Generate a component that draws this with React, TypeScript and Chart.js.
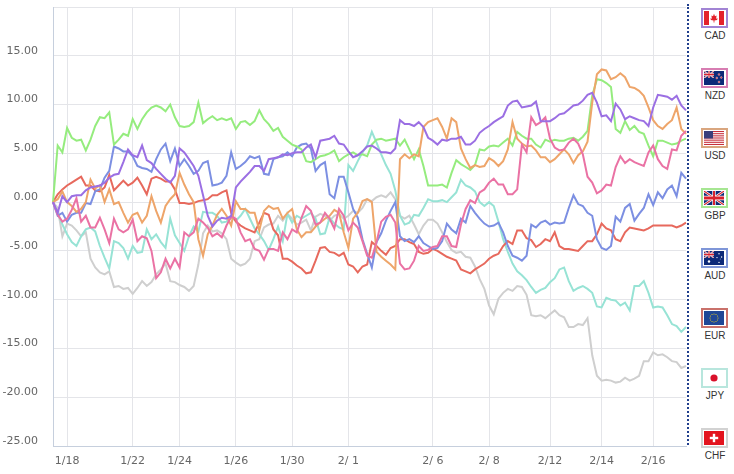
import React, { useEffect, useRef } from 'react';
import Chart from 'chart.js/auto';

// Trading days on the x axis and how many 4h points each one holds
const DAYS = ['1/17', '1/18', '1/19', '1/22', '1/23', '1/24', '1/25', '1/26', '1/29', '1/30', '1/31',
  '2/ 1', '2/ 2', '2/ 5', '2/ 6', '2/ 7', '2/ 8', '2/ 9', '2/12', '2/13', '2/14', '2/15', '2/16'];
const POINTS_PER_DAY = [3, 7, 7, 5, 5, 6, 6, 6, 6, 6, 6, 6, 6, 6, 6, 6, 7, 6, 5, 6, 5, 6, 8];
const TICK_DATES = ['1/18', '1/22', '1/24', '1/26', '1/30', '2/ 1', '2/ 6', '2/ 8', '2/12', '2/14', '2/16'];

const CURRENCIES = ['CAD', 'NZD', 'USD', 'GBP', 'AUD', 'EUR', 'JPY', 'CHF'];

// Cumulative change (%) per currency
const CAD = [0, -1.1, 0.6, 0.0, 0.6, 0.7, 0.7, 1.2, 1.5, 1.6,
  1.7, 2.0, 2.5, 2.8, 2.9, 4.1, 5.4, 4.8, 4.6, 5.8,
  4.3, 4.0, 3.4, 2.9, 2.4, 2.0, 2.7, 5.5, 5.1, 4.4,
  3.7, 2.7, 0.7, -1.4, -2.5, -1.9, -1.6, -1.7, -1.4, 1.5,
  2.1, 2.6, 3.1, 3.7, 3.7, 3.2, 4.4, 4.5, 4.6, 4.9,
  4.8, 5.0, 5.1, 5.1, 5.6, 5.9, 4.6, 6.3, 6.4, 6.5,
  6.8, 6.0, 5.9, 5.2, 4.6, 4.8, 5.2, 5.7, 5.8, 5.5,
  5.1, 5.1, 5.0, 5.5, 8.4, 8.0, 8.0, 7.8, 8.2, 7.7,
  6.6, 6.3, 5.9, 6.4, 6.3, 6.5, 6.5, 6.7, 5.9, 5.9,
  6.3, 7.1, 7.5, 7.8, 8.2, 8.5, 8.8, 9.9, 10.3, 10.4,
  9.7, 9.8, 9.9, 10.3, 8.3, 8.3, 8.3, 8.6, 9.0, 9.1,
  9.5, 9.9, 10.0, 10.4, 11.0, 11.2, 10.2, 8.8, 8.9, 8.3,
  10.1, 9.5, 8.5, 8.8, 8.6, 8.4, 8.3, 7.8, 9.7, 11.0,
  10.9, 10.8, 10.5, 10.9, 9.9, 9.4];

const NZD = [0, -1.3, -2.0, -1.7, -0.8, 0.4, -2.0, -1.4, -2.6, -2.6,
  -1.6, -2.8, -4.2, -1.7, -2.8, -3.1, -2.8, -1.8, -4.0, -3.5,
  -3.7, -5.0, -7.8, -7.2, -5.8, -6.8, -5.8, -6.7, -3.1, -3.5,
  -3.1, -1.7, -2.1, -2.6, -3.5, -3.2, -3.6, -2.4, -1.5, -1.7,
  -3.1, -4.0, -3.8, -4.8, -5.0, -5.9, -4.8, -4.8, -5.0, -3.1,
  -3.8, -2.8, -3.1, -1.6, -0.4, -0.9, -2.3, -2.1, -1.1, -1.7,
  -2.7, -0.7, -1.4, -2.9, -2.1, -2.6, -4.0, -5.5, -5.7, -4.1,
  -2.0, -1.5, -1.3, -2.1, -6.3, -6.9, -6.8, -6.0, -4.5, -5.0,
  -4.9, -4.6, -4.5, -3.5, -3.5, -4.5, -4.6, -2.3, -0.7, 0.2,
  -0.1, 1.0, 1.3, 2.0, 2.4, 1.8, 1.8, 0.8, 0.8, 1.3,
  5.9, 5.1, 8.7, 7.9, 8.2, 8.7, 6.5, 5.6, 5.3, 5.4,
  6.1, 6.5, 6.0, 4.9, 2.6, 2.0, 0.9, 1.2, 1.8, 1.7,
  3.6, 4.7, 4.0, 4.4, 4.1, 3.9, 3.7, 5.1, 5.8, 4.4,
  3.7, 3.4, 5.4, 5.3, 6.8, 7.3];

const USD = [0, 0.3, 1.1, 0.0, -0.4, -1.0, -0.7, 0.0, 2.3, 1.4,
  1.7, 0.0, 1.3, -0.2, 0.0, -1.1, -2.1, -1.3, -1.1, -2.1,
  -1.4, 0.6, -0.9, -2.1, -0.4, 0.3, 0.8, 3.0, 1.8, 0.8,
  0.0, -3.8, -5.5, -3.3, -2.4, -1.3, -0.7, -1.4, -2.4, 0.1,
  -0.7, -0.7, -1.1, -1.1, -2.9, -0.9, -0.4, -0.7, -0.6, -1.7,
  -1.1, -0.7, -2.8, -3.6, -3.1, -3.1, -2.5, -2.1, -1.7, -1.4,
  -0.8, -1.1, -3.1, -4.7, -1.7, -1.1, 0.1, 0.3, 0.0, -5.1,
  -5.6, -6.0, -6.4, -6.9, 4.4, 4.9, 4.5, 4.9, 4.7, 7.7,
  8.2, 8.4, 8.6, 7.7, 6.5, 8.6, 8.2, 5.5, 4.4, 3.5,
  3.8, 3.6, 3.7, 4.5, 4.2, 3.7, 4.2, 5.4, 8.2, 6.5,
  6.0, 5.7, 5.8, 5.3, 4.6, 4.6, 4.1, 4.4, 4.9, 5.4,
  4.9, 4.0, 4.8, 5.2, 6.2, 10.2, 13.1, 13.6, 13.5, 12.6,
  12.8, 13.2, 12.8, 11.8, 11.7, 11.4, 10.9, 9.7, 8.4, 7.8,
  7.5, 8.0, 8.4, 9.7, 7.5, 7.0];

const GBP = [0, 5.8, 5.1, 7.6, 6.6, 6.3, 6.4, 5.3, 6.4, 7.8,
  8.7, 8.6, 9.2, 5.9, 6.4, 7.0, 6.8, 8.5, 7.5, 8.5,
  9.2, 9.7, 9.9, 9.7, 9.3, 10.0, 8.7, 7.8, 7.7, 7.8,
  8.2, 10.2, 8.1, 8.5, 8.8, 8.4, 8.6, 8.4, 8.6, 7.5,
  8.2, 8.3, 7.9, 8.3, 9.4, 8.5, 8.0, 7.3, 7.6, 6.7,
  6.3, 5.9, 5.7, 5.4, 4.2, 4.1, 4.4, 4.7, 4.8, 5.0,
  5.3, 4.2, 4.6, 4.9, 5.1, 4.8, 4.9, 4.7, 5.9, 6.4,
  6.5, 6.3, 6.4, 6.5, 5.8, 6.4, 5.4, 4.4, 5.4, 3.7,
  1.7, 1.7, 1.7, 1.8, 1.5, 3.0, 4.3, 3.9, 3.6, 3.3,
  3.8, 5.4, 5.3, 5.7, 5.8, 5.7, 6.1, 6.5, 5.8, 7.2,
  6.8, 6.5, 6.5, 5.9, 5.6, 6.4, 6.2, 6.4, 6.3, 6.3,
  6.5, 6.6, 6.3, 6.7, 7.3, 10.9, 12.6, 12.5, 12.2, 11.8,
  7.5, 7.1, 8.3, 7.4, 7.8, 7.2, 7.0, 5.8, 4.7, 6.3,
  6.3, 6.1, 5.9, 6.0, 6.3, 6.5];

const AUD = [0, -1.4, -1.1, -2.0, -1.3, -1.1, -1.1, -0.1, -0.2, 1.1,
  1.3, 2.5, 3.2, 5.7, 5.5, 5.2, 5.2, 4.7, 3.7, 3.5,
  3.4, 3.1, 4.4, 5.4, 6.0, 4.2, 5.5, 3.7, 4.4, 3.7,
  2.9, 3.2, 4.0, 4.2, 1.7, 1.8, 2.0, 2.7, 5.1, 3.4,
  3.7, 4.1, 4.7, 4.5, 4.7, 2.9, 2.8, 4.4, 4.6, 4.7,
  5.1, 4.7, 5.6, 5.9, 6.0, 5.5, 3.2, 3.8, 4.1, 0.8,
  0.4, 2.6, 2.6, 1.0, -0.7, -1.6, -3.8, -5.3, -6.7, -4.1,
  -3.2, -1.9, -0.9, 0.0, -3.5, -4.0, -3.8, -4.1, -3.5, -4.2,
  -4.5, -4.8, -4.7, -4.0, -2.2, -2.8, -3.2, -1.7, -2.1, -0.4,
  -1.1, -1.7, -2.2, -2.5, -2.4, -2.1, -3.1, -4.5, -5.5, -5.7,
  -6.0, -5.5, -2.3, -2.6, -2.1, -1.9, -2.3, -2.1, -2.2, -2.1,
  -0.6, 0.7, -0.2, -0.4, -1.1, -1.4, -3.8, -4.7, -4.9, -4.5,
  -1.5, -2.0, -0.6, -0.2, -1.9, -1.2, -0.6, 0.8, -0.3, 1.0,
  0.4, 1.3, 1.7, 0.6, 3.0, 2.4];

const EUR = [0, 0.8, 1.3, 1.7, 2.0, 2.3, 2.6, 1.7, 1.7, 1.2,
  1.1, 1.5, 2.8, 1.2, 1.7, 2.2, 1.7, 2.0, 2.5, 1.7,
  0.8, 2.4, 2.6, 2.4, 2.1, 2.1, 1.3, -0.1, -0.1, -0.2,
  -0.1, 0.1, 0.2, 0.3, 0.7, 0.7, 1.0, 1.2, -1.1, -2.0,
  -2.4, -2.7, -2.9, -3.1, -2.1, -1.1, -1.3, -2.8, -3.4, -5.8,
  -5.8, -6.1, -6.5, -6.8, -7.3, -7.2, -6.0, -4.7, -4.6, -5.1,
  -5.2, -5.5, -5.2, -6.4, -6.6, -7.2, -6.6, -6.4, -4.1, -4.5,
  -5.0, -5.4, -4.7, -4.5, -3.8, -3.8, -4.1, -4.3, -5.1, -5.3,
  -5.2, -4.8, -5.0, -5.3, -5.6, -5.8, -6.0, -6.9, -7.1, -7.3,
  -6.9, -6.6, -6.3, -5.8, -5.5, -5.3, -4.5, -4.0, -4.3, -2.9,
  -2.9, -3.7, -3.9, -4.6, -4.3, -3.8, -4.0, -3.1, -4.5, -4.8,
  -4.8, -4.9, -5.0, -4.5, -4.0, -4.0, -3.3, -2.2, -2.7, -2.9,
  -3.8, -4.0, -3.1, -2.6, -2.7, -2.8, -2.9, -2.7, -2.4, -2.4,
  -2.4, -2.4, -2.4, -2.6, -2.4, -2.1];

const JPY = [0, -1.1, -2.3, -3.3, -4.1, -4.5, -3.5, -2.8, -2.6, -3.0,
  -4.5, -5.7, -6.8, -4.0, -4.2, -4.7, -5.8, -4.5, -5.2, -5.1,
  -2.8, -3.8, -3.3, -4.1, -4.7, -1.7, -3.4, -4.2, -5.0, -3.5,
  -2.5, -3.0, -1.0, -1.1, -1.1, -1.4, -2.1, -2.0, -1.6, -1.9,
  -1.4, -0.7, -1.7, -2.7, -3.3, -4.0, -4.9, -3.8, -2.5, -4.0,
  -1.2, -2.1, -1.4, -1.7, -1.4, -1.1, -1.7, -3.3, -3.2, -1.6,
  -2.2, -2.6, -2.8, 3.8, 3.2, 4.2, 5.1, 5.8, 7.2, 6.1,
  4.9, 3.8, 2.9, 1.2, -1.4, -2.3, -2.1, -1.3, -1.4, -0.6,
  0.3, 0.1, 0.1, 0.2, 0.0, 0.5, 1.0, 2.3, 1.7, 1.5,
  1.1, 0.0, -0.4, 0.0, -0.4, -2.0, -3.8, -5.1, -6.3, -7.1,
  -7.5, -8.0, -8.7, -9.3, -9.0, -8.8, -8.2, -7.8, -6.9, -6.7,
  -8.1, -9.1, -8.8, -8.6, -8.9, -9.3, -10.7, -10.8, -9.8, -10.0,
  -10.1, -10.6, -10.3, -11.1, -8.6, -8.6, -8.1, -9.3, -10.8, -10.7,
  -10.8, -11.6, -12.5, -12.7, -13.3, -12.8];

const CHF = [0, -0.6, -3.5, -2.2, -2.4, -2.9, -3.5, -3.1, -5.8, -6.7,
  -7.2, -7.4, -7.1, -8.7, -8.6, -8.9, -8.8, -9.4, -8.8, -8.1,
  -8.6, -8.2, -7.4, -6.9, -6.3, -8.1, -8.2, -8.5, -8.7, -9.1,
  -8.6, -6.4, -3.2, -2.4, -3.0, -2.9, -3.2, -3.8, -5.8, -6.2,
  -6.5, -6.3, -5.8, -4.0, -3.8, -2.6, -2.3, -2.2, -1.4, -1.9,
  -1.2, -1.7, -2.3, -2.1, -1.8, -2.9, -1.5, -1.2, -1.4, -1.9,
  -1.4, -1.2, -1.7, -1.4, -0.9, -1.1, -0.6, 0.3, 0.1, 0.5,
  0.7, 0.5, 1.0, 0.3, -1.4, -1.7, -1.4, -2.3, -3.3, -2.4,
  -1.8, -1.8, -2.2, -3.1, -4.1, -4.9, -5.2, -5.1, -5.6, -5.7,
  -6.6, -7.9, -8.9, -10.6, -11.5, -9.9, -9.3, -8.9, -9.1, -8.6,
  -8.7, -9.5, -11.6, -11.7, -11.6, -11.9, -11.5, -11.1, -11.6, -11.8,
  -12.8, -12.8, -12.5, -12.6, -11.9, -15.7, -17.8, -18.3, -18.2, -18.3,
  -18.5, -18.4, -18.0, -18.3, -18.1, -17.8, -16.3, -16.3, -15.4, -15.7,
  -15.6, -15.9, -16.3, -16.4, -17.0, -16.8];

const SERIES = [CAD, NZD, USD, GBP, AUD, EUR, JPY, CHF];
const LINE_COLORS = ['#9b6fe3', '#ea72a4', '#eea56a', '#95ec7e', '#7c8fe2', '#e7695d', '#97e3d5', '#cfcfcf'];
const BOX_COLORS = ['#a184d4', '#d77db2', '#d9a67f', '#a6e692', '#7f96d8', '#c9716b', '#b8e6dd', '#d2d2d2'];

// one label per point, ticks only on the first point of the listed days
const LABELS = DAYS.flatMap((d, i) => Array(POINTS_PER_DAY[i]).fill(d));
const TICK_INDEX = TICK_DATES.map((d) => LABELS.indexOf(d));

const tickFont = { family: '"DejaVu Sans", Verdana, sans-serif', size: 11 };

// Small flags for the legend column
const UnionJack = ({ width = 20, height = 14 }: { width?: number; height?: number }) => (
  <svg x={0} y={0} width={width} height={height} viewBox="0 0 60 30" preserveAspectRatio="none">
    <rect width="60" height="30" fill="#0d2a78" />
    <path d="M0,0 L60,30 M60,0 L0,30" stroke="#fff" strokeWidth="6" />
    <path d="M0,0 L60,30 M60,0 L0,30" stroke="#d8222e" strokeWidth="2.5" />
    <path d="M30,0 V30 M0,15 H60" stroke="#fff" strokeWidth="10" />
    <path d="M30,0 V30 M0,15 H60" stroke="#d8222e" strokeWidth="6" />
  </svg>
);

const EU_STARS = [0, 1, 2, 3, 4, 5, 6, 7, 8, 9, 10, 11];

const Flag = ({ code }: { code: string }) => {
  let body: React.ReactNode = null;
  if (code === 'CAD') {
    body = (
      <>
        <rect width="20" height="14" fill="#fff" />
        <rect width="5" height="14" fill="#e3222b" />
        <rect x="15" width="5" height="14" fill="#e3222b" />
        <polygon points="10,2.8 11,5.2 12.6,4.5 12.1,7.8 13.6,7.2 13.1,9 10.4,9.6 10.4,11.4 9.6,11.4 9.6,9.6 6.9,9 6.4,7.2 7.9,7.8 7.4,4.5 9,5.2" fill="#e3222b" />
      </>
    );
  } else if (code === 'NZD') {
    body = (
      <>
        <rect width="20" height="14" fill="#0d2a78" />
        <UnionJack width={10} height={7} />
        {[[15, 3.5], [12.8, 7], [17.3, 6.5], [15, 11]].map(([cx, cy], i) => (
          <circle key={i} cx={cx} cy={cy} r="0.9" fill="#d8222e" stroke="#fff" strokeWidth="0.4" />
        ))}
      </>
    );
  } else if (code === 'USD') {
    body = (
      <>
        <rect width="20" height="14" fill="#fff" />
        {[0, 2, 4, 6, 8, 10, 12].map((s) => (
          <rect key={s} y={(s * 14) / 13} width="20" height={14 / 13} fill="#c7303d" />
        ))}
        <rect width="9" height="7.5" fill="#3a3f7a" />
      </>
    );
  } else if (code === 'GBP') {
    body = <UnionJack />;
  } else if (code === 'AUD') {
    body = (
      <>
        <rect width="20" height="14" fill="#0d2a78" />
        <UnionJack width={10} height={7} />
        {[[5, 10.5, 1.2], [15, 2.8, 0.7], [17.6, 6, 0.7], [13, 6.6, 0.7], [15, 11.4, 0.7], [16.2, 8, 0.4]].map(([cx, cy, r], i) => (
          <circle key={i} cx={cx} cy={cy} r={r} fill="#fff" />
        ))}
      </>
    );
  } else if (code === 'EUR') {
    body = (
      <>
        <rect width="20" height="14" fill="#1f4796" />
        {EU_STARS.map((k) => (
          <circle key={k} cx={10 + 4 * Math.cos((k * Math.PI) / 6)} cy={7 + 4 * Math.sin((k * Math.PI) / 6)} r="0.55" fill="#f2d21a" />
        ))}
      </>
    );
  } else if (code === 'JPY') {
    body = (
      <>
        <rect width="20" height="14" fill="#fff" />
        <circle cx="10" cy="7" r="3.6" fill="#d9102a" />
      </>
    );
  } else if (code === 'CHF') {
    body = (
      <>
        <rect width="20" height="14" fill="#e3141e" />
        <rect x="8.8" y="2.8" width="2.4" height="8.4" fill="#fff" />
        <rect x="5.8" y="5.8" width="8.4" height="2.4" fill="#fff" />
      </>
    );
  }
  return (
    <svg width="20" height="14" viewBox="0 0 20 14" style={{ display: 'block' }}>
      {body}
    </svg>
  );
};

const App: React.FC = () => {
  const canvasRef = useRef<HTMLCanvasElement | null>(null);

  useEffect(() => {
    if (!canvasRef.current) return;

    const chart = new Chart(canvasRef.current, {
      type: 'line',
      data: {
        labels: LABELS,
        datasets: CURRENCIES.map((c, i) => ({
          label: c,
          data: SERIES[i],
          borderColor: LINE_COLORS[i],
          backgroundColor: LINE_COLORS[i],
          borderWidth: 2,
          pointRadius: 0,
          tension: 0,
          fill: false,
        })),
      },
      options: {
        responsive: true,
        maintainAspectRatio: false,
        animation: false,
        layout: { padding: { top: 7, right: 2, left: 0, bottom: 0 } },
        plugins: {
          legend: { display: false },
          tooltip: { enabled: false },
        },
        scales: {
          x: {
            type: 'category',
            offset: false,
            grid: { color: '#e4e5e9', drawTicks: false },
            border: { color: '#c6cfdd' },
            ticks: {
              autoSkip: false,
              maxRotation: 0,
              padding: 9,
              color: '#666',
              font: tickFont,
              callback: (value: any) => LABELS[value as number],
            },
            afterBuildTicks: (axis: any) => {
              axis.ticks = TICK_INDEX.map((v) => ({ value: v }));
            },
            afterFit: (scale: any) => {
              scale.height = 28;
              scale.paddingLeft = 0;
              scale.paddingRight = 0;
            },
          },
          y: {
            min: -25,
            max: 20,
            grid: { color: '#e4e5e9', drawTicks: false },
            border: { color: '#c6cfdd' },
            ticks: {
              stepSize: 5,
              padding: 15,
              labelOffset: -5,
              color: '#666',
              font: tickFont,
              callback: (value: any) => (Number(value) === 20 ? '' : Number(value).toFixed(2)),
            },
            afterFit: (scale: any) => {
              scale.width = 53;
              scale.paddingTop = 0;
              scale.paddingBottom = 0;
            },
          },
        },
      },
    });

    return () => {
      chart.destroy();
    };
  }, []);

  return (
    <div style={{ position: 'absolute', left: 0, top: 0, width: 734, height: 474, background: '#fff', overflow: 'hidden' }}>
      <div style={{ position: 'absolute', left: 0, top: 0, width: 688, height: 474 }}>
        <canvas ref={canvasRef} />
      </div>

      {/* dotted separator before the currency column */}
      <div style={{ position: 'absolute', left: 687, top: 4, height: 441, borderLeft: '2px dotted #213f8d' }} />

      {CURRENCIES.map((c, i) => (
        <div key={c} style={{ position: 'absolute', left: 701, top: 8 + i * 60, width: 28, textAlign: 'center' }}>
          <div
            style={{
              width: 27,
              height: 20,
              boxSizing: 'border-box',
              border: `2px solid ${BOX_COLORS[i]}`,
              padding: 1,
              background: '#fff',
            }}
          >
            <Flag code={c} />
          </div>
          <div style={{ font: '10px "Liberation Sans", Arial, sans-serif', color: '#333', marginTop: 2, lineHeight: '11px' }}>{c}</div>
        </div>
      ))}
    </div>
  );
};

export default App;
